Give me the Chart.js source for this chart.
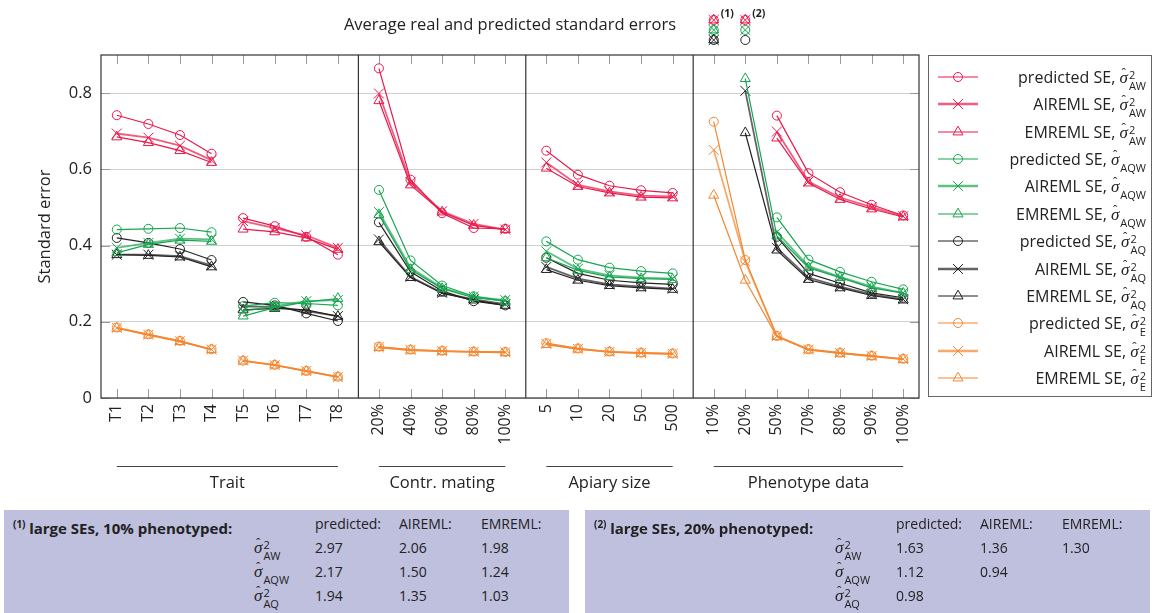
<!DOCTYPE html>
<html>
<head>
<meta charset="utf-8">
<title>Standard errors</title>
<script src="https://cdn.jsdelivr.net/npm/chart.js@4.4.1/dist/chart.umd.min.js"></script>
<style>
  body { margin: 0; background: #fff; }
  #page { position: relative; width: 1154px; height: 613px; overflow: hidden; font-family: "Open Sans", "DejaVu Sans", sans-serif; color: #222; }
  #chart { position: absolute; left: 0; top: 0; }
  #legend { position: absolute; left: 928px; top: 55px; width: 224px; height: 342px; border: 1.5px solid #666; box-sizing: border-box; }
  .entry { position: absolute; left: 0; right: 0; height: 26px; }
  .entry canvas { position: absolute; left: 7px; top: 5px; }
  .entry .txt { position: absolute; right: 5px; top: 0; height: 26px; line-height: 26px; font-size: 16px; white-space: nowrap; }
  .sym { position: relative; display: inline-block; font-family: "Liberation Serif", serif; font-style: italic; font-size: 17px; line-height: 16px; }
  .hat { position: absolute; left: 2px; top: -5px; font-style: normal; font-size: 13px; }
  .ss { display: inline-block; vertical-align: -7px; line-height: 11px; font-size: 11px; font-family: "Open Sans", sans-serif; margin-left: 1px; text-align: left; }
  .ss span { display: block; }
  .note { position: absolute; top: 510px; width: 565px; height: 103px; background: #bfbfde; font-size: 14px; }
  .note > div { position: absolute; white-space: nowrap; line-height: 20px; }
  .note b { font-size: 15px; }
  .note sup { font-size: 10px; font-weight: bold; }
</style>
</head>
<body>
<div id="page">
  <canvas id="chart" width="1154" height="613"></canvas>
  <div id="legend"></div>
</div>
<script>
const Y_MAX = 0.9;
const PANEL_GAP = 1.3;

// categories of the four panels
const traitLabels = ['T1', 'T2', 'T3', 'T4', 'T5', 'T6', 'T7', 'T8'];
const matingLabels = ['20%', '40%', '60%', '80%', '100%'];
const apiaryLabels = ['5', '10', '20', '50', '500'];
const phenoLabels = ['10%', '20%', '50%', '70%', '80%', '90%', '100%'];
const panelTitles = ['Trait', 'Contr. mating', 'Apiary size', 'Phenotype data'];
const traitSplit = 4; // T1-T4 and T5-T8 are separate trait sets
const yTicks = [0, 0.2, 0.4, 0.6, 0.8];

// SEs per category: trait (8) | mating (5) | apiary (5) | phenotype (7)
const predAW  = [0.742, 0.719, 0.690, 0.641, 0.472, 0.451, 0.423, 0.376, 0.865, 0.573, 0.485, 0.446, 0.444, 0.649, 0.586, 0.557, 0.545, 0.538, 2.97, 1.63, 0.741, 0.590, 0.540, 0.507, 0.479];
const aiAW    = [0.694, 0.683, 0.662, 0.624, 0.464, 0.446, 0.427, 0.394, 0.799, 0.566, 0.490, 0.457, 0.442, 0.618, 0.559, 0.542, 0.531, 0.529, 2.06, 1.36, 0.699, 0.568, 0.526, 0.501, 0.477];
const emAW    = [0.685, 0.670, 0.649, 0.618, 0.443, 0.436, 0.420, 0.390, 0.780, 0.559, 0.488, 0.453, 0.442, 0.603, 0.555, 0.538, 0.527, 0.525, 1.98, 1.30, 0.682, 0.564, 0.521, 0.496, 0.475];

const predAQW = [0.442, 0.444, 0.446, 0.435, 0.241, 0.250, 0.248, 0.243, 0.546, 0.361, 0.295, 0.267, 0.254, 0.411, 0.363, 0.342, 0.333, 0.327, 2.17, 1.12, 0.474, 0.363, 0.331, 0.305, 0.285];
const aiAQW   = [0.394, 0.407, 0.418, 0.416, 0.228, 0.241, 0.254, 0.257, 0.488, 0.342, 0.289, 0.266, 0.257, 0.385, 0.339, 0.322, 0.316, 0.313, 1.50, 0.94, 0.435, 0.346, 0.318, 0.292, 0.276];
const emAQW   = [0.381, 0.403, 0.414, 0.411, 0.215, 0.237, 0.252, 0.261, 0.481, 0.337, 0.287, 0.263, 0.254, 0.368, 0.335, 0.318, 0.313, 0.311, 1.24, 0.838, 0.425, 0.342, 0.316, 0.289, 0.275];

const predAQ  = [0.420, 0.407, 0.391, 0.362, 0.252, 0.243, 0.222, 0.202, 0.461, 0.331, 0.281, 0.254, 0.243, 0.368, 0.327, 0.309, 0.302, 0.298, 1.94, 0.98, 0.423, 0.327, 0.301, 0.276, 0.263];
const aiAQ    = [0.376, 0.376, 0.372, 0.348, 0.240, 0.240, 0.228, 0.215, 0.416, 0.318, 0.276, 0.259, 0.246, 0.344, 0.313, 0.298, 0.292, 0.287, 1.35, 0.806, 0.394, 0.316, 0.292, 0.272, 0.259];
const emAQ    = [0.376, 0.374, 0.370, 0.344, 0.231, 0.235, 0.231, 0.214, 0.410, 0.316, 0.275, 0.257, 0.243, 0.337, 0.309, 0.295, 0.289, 0.285, 1.03, 0.696, 0.388, 0.311, 0.289, 0.269, 0.257];

const predE   = [0.185, 0.167, 0.150, 0.128, 0.098, 0.087, 0.071, 0.056, 0.135, 0.127, 0.124, 0.122, 0.121, 0.144, 0.130, 0.122, 0.119, 0.117, 0.725, 0.362, 0.163, 0.128, 0.119, 0.111, 0.103];
const aiE     = [0.184, 0.166, 0.149, 0.127, 0.098, 0.086, 0.071, 0.055, 0.133, 0.126, 0.123, 0.121, 0.120, 0.142, 0.129, 0.121, 0.118, 0.116, 0.651, 0.358, 0.162, 0.127, 0.118, 0.110, 0.102];
const emE     = [0.183, 0.165, 0.148, 0.127, 0.097, 0.086, 0.070, 0.055, 0.132, 0.125, 0.122, 0.120, 0.119, 0.140, 0.128, 0.120, 0.117, 0.115, 0.532, 0.309, 0.161, 0.126, 0.117, 0.109, 0.101];

const FONT = '"Open Sans", "DejaVu Sans", sans-serif';

const groups = [
  { color: '#e8194a', sup: '2', sub: 'AW', series: [predAW, aiAW, emAW] },
  { color: '#17a64f', sup: '', sub: 'AQW', series: [predAQW, aiAQW, emAQW] },
  { color: '#222222', sup: '2', sub: 'AQ', series: [predAQ, aiAQ, emAQ] },
  { color: '#f5862f', sup: '2', sub: 'E', series: [predE, aiE, emE] },
];
const methods = [
  { name: 'predicted SE', head: 'predicted:', style: 'circle', size: 4.5, width: 1.2, alpha: 1 },
  { name: 'AIREML SE', head: 'AIREML:', style: 'crossRot', size: 7, width: 1.8, alpha: 0.7 },
  { name: 'EMREML SE', head: 'EMREML:', style: 'triangle', size: 5.8, width: 1.2, alpha: 1 },
];

// x layout: unit spacing inside a panel, wider gap between panels
const xPos = [], xLabels = [], separators = [], panelSpans = [], breakAfter = new Set();
let last = 0;
[traitLabels, matingLabels, apiaryLabels, phenoLabels].forEach((labels, p) => {
  const start = p === 0 ? 0 : last + PANEL_GAP;
  if (p > 0) separators.push(last + PANEL_GAP / 2);
  labels.forEach((lab, i) => { xPos.push(start + i); xLabels.push(lab); });
  last = start + labels.length - 1;
  panelSpans.push([start, last]);
  breakAfter.add(xLabels.length - 1);
});
breakAfter.add(traitSplit - 1);

function withAlpha(hex, a) {
  const n = parseInt(hex.slice(1), 16);
  return `rgba(${n >> 16}, ${(n >> 8) & 255}, ${n & 255}, ${a})`;
}

function hideSegment(c) {
  return breakAfter.has(c.p0DataIndex) || c.p0.parsed.y > Y_MAX || c.p1.parsed.y > Y_MAX;
}

const entries = [];
const datasets = [];
groups.forEach(g => methods.forEach((m, k) => {
  entries.push({ g, m });
  datasets.push({
    label: m.name,
    data: g.series[k].map((v, i) => ({ x: xPos[i], y: v })),
    borderColor: withAlpha(g.color, m.alpha),
    borderWidth: m.width,
    pointStyle: m.style,
    pointRadius: c => (c.raw && c.raw.y > Y_MAX ? 0 : m.size),
    pointBorderColor: g.color,
    pointBackgroundColor: 'rgba(0,0,0,0)',
    pointBorderWidth: 1,
    tension: 0,
    segment: { borderColor: c => (hideSegment(c) ? 'rgba(0,0,0,0)' : undefined) },
  });
}));

// phenotype columns with values above the axis get a footnote
const noteCols = [];
xLabels.forEach((lab, i) => {
  if (groups.some(g => g.series.some(s => s[i] > Y_MAX))) noteCols.push(i);
});

function marker(ctx, style, size, color, x, y) {
  ctx.strokeStyle = color;
  ctx.fillStyle = 'rgba(0,0,0,0)';
  ctx.lineWidth = 1;
  Chart.helpers.drawPoint(ctx, { pointStyle: style, radius: size, borderWidth: 1, rotation: 0 }, x, y);
}

const decorations = {
  id: 'decorations',
  beforeDatasetsDraw(chart) {
    const { ctx, chartArea: a, scales: { x, y } } = chart;
    ctx.save();
    ctx.lineWidth = 1;
    ctx.strokeStyle = '#9a9a9a';
    ctx.beginPath();
    xPos.forEach(v => {
      const px = Math.round(x.getPixelForValue(v)) + 0.5;
      ctx.moveTo(px, a.top); ctx.lineTo(px, a.top + 9);
      ctx.moveTo(px, a.bottom); ctx.lineTo(px, a.bottom - 9);
    });
    yTicks.forEach(v => {
      const py = Math.round(y.getPixelForValue(v)) + 0.5;
      ctx.moveTo(a.left, py); ctx.lineTo(a.left + 9, py);
      ctx.moveTo(a.right, py); ctx.lineTo(a.right - 9, py);
    });
    ctx.stroke();
    ctx.restore();
  },
  afterDraw(chart) {
    const { ctx, chartArea: a, scales: { x } } = chart;
    ctx.save();
    // frame and panel separators
    ctx.strokeStyle = '#333';
    ctx.lineWidth = 1.2;
    ctx.strokeRect(a.left, a.top, a.right - a.left, a.bottom - a.top);
    ctx.beginPath();
    separators.forEach(v => {
      const px = x.getPixelForValue(v);
      ctx.moveTo(px, a.top); ctx.lineTo(px, a.bottom);
    });
    ctx.stroke();

    ctx.fillStyle = '#222';
    ctx.textBaseline = 'middle';
    ctx.textAlign = 'center';
    ctx.font = '16.5px ' + FONT;
    ctx.fillText('Average real and predicted standard errors', (a.left + a.right) / 2, 25);

    ctx.save();
    ctx.translate(45, (a.top + a.bottom) / 2);
    ctx.rotate(-Math.PI / 2);
    ctx.fillText('Standard error', 0, 0);
    ctx.restore();

    // panel captions
    ctx.strokeStyle = '#444';
    ctx.lineWidth = 1;
    panelSpans.forEach(([s, e], p) => {
      const x0 = x.getPixelForValue(s), x1 = x.getPixelForValue(e);
      ctx.beginPath();
      ctx.moveTo(x0, 466.5); ctx.lineTo(x1, 466.5);
      ctx.stroke();
      ctx.fillText(panelTitles[p], (x0 + x1) / 2, 483);
    });

    // off-scale values: markers stacked above the plot
    const rows = [20, 30, 40];
    noteCols.forEach((i, n) => {
      const px = x.getPixelForValue(xPos[i]);
      groups.forEach((g, r) => {
        if (r >= rows.length) return;
        g.series.forEach((s, k) => {
          if (s[i] > Y_MAX) marker(ctx, methods[k].style, methods[k].size, g.color, px, rows[r]);
        });
      });
      ctx.fillStyle = '#222';
      ctx.textAlign = 'left';
      ctx.font = 'bold 10.5px ' + FONT;
      ctx.fillText('(' + (n + 1) + ')', px + 7, 14);
    });
    ctx.restore();
  },
};

Chart.defaults.font.family = FONT;
Chart.defaults.color = '#222';

new Chart(document.getElementById('chart'), {
  type: 'line',
  data: { datasets },
  options: {
    responsive: false,
    animation: false,
    events: [],
    layout: { padding: { left: 0, top: 55, right: 235, bottom: 155 } },
    plugins: { legend: { display: false }, tooltip: { enabled: false } },
    scales: {
      x: {
        type: 'linear',
        min: -0.5,
        max: xPos[xPos.length - 1] + 0.5,
        afterBuildTicks: s => { s.ticks = xPos.map(v => ({ value: v })); },
        afterFit: s => { s.height = 60; },
        grid: { display: false, drawTicks: false },
        border: { display: false },
        ticks: {
          autoSkip: false,
          minRotation: 90,
          maxRotation: 90,
          padding: 6,
          font: { size: 16 },
          callback: (v, i) => xLabels[i],
        },
      },
      y: {
        min: 0,
        max: Y_MAX,
        afterBuildTicks: s => { s.ticks = yTicks.map(v => ({ value: v })); },
        afterFit: s => { s.width = 101; },
        grid: { color: '#cfcfcf', drawTicks: false },
        border: { display: false },
        ticks: {
          padding: 9,
          font: { size: 16.5 },
          callback: v => (v === 0 ? '0' : v.toFixed(1)),
        },
      },
    },
  },
  plugins: [decorations],
});

function symbolHtml(g) {
  return `<span class="sym"><span class="hat">ˆ</span>σ</span>` +
    `<span class="ss"><span>${g.sup || '&nbsp;'}</span><span>${g.sub}</span></span>`;
}

// legend
const legendEl = document.getElementById('legend');
entries.forEach(({ g, m }, k) => {
  const row = document.createElement('div');
  row.className = 'entry';
  row.style.top = (20.7 + 27.4 * k - 13) + 'px';
  const c = document.createElement('canvas');
  c.width = 44; c.height = 16;
  const gc = c.getContext('2d');
  gc.strokeStyle = withAlpha(g.color, m.alpha);
  gc.lineWidth = m.width + (m.alpha < 1 ? 0.8 : 0);
  gc.beginPath(); gc.moveTo(2, 8); gc.lineTo(42, 8); gc.stroke();
  marker(gc, m.style, m.size, g.color, 22, 8);
  const txt = document.createElement('div');
  txt.className = 'txt';
  txt.innerHTML = `${m.name}, ${symbolHtml(g)}`;
  row.appendChild(c);
  row.appendChild(txt);
  legendEl.appendChild(row);
});

// footnote tables for the off-scale values
const page = document.getElementById('page');
const noteLefts = [4, 585];
const colX = [311, 395, 477];
const rowY = [38, 62, 86];
noteCols.forEach((i, n) => {
  const box = document.createElement('div');
  box.className = 'note';
  box.style.left = noteLefts[n] + 'px';
  let html = `<div style="left:9px;top:4px"><sup>(${n + 1})</sup> <b>large SEs, ${xLabels[i]} phenotyped:</b></div>`;
  methods.forEach((m, k) => {
    html += `<div style="left:${colX[k]}px;top:4px">${m.head}</div>`;
  });
  groups.forEach((g, r) => {
    const vals = g.series.map(s => s[i]);
    if (!vals.some(v => v > Y_MAX)) return;
    html += `<div style="left:250px;top:${rowY[r] - 10}px">${symbolHtml(g)}</div>`;
    vals.forEach((v, k) => {
      if (v > Y_MAX) html += `<div style="left:${colX[k]}px;top:${rowY[r] - 10}px">${v.toFixed(2)}</div>`;
    });
  });
  box.innerHTML = html;
  page.appendChild(box);
});
</script>
</body>
</html>
